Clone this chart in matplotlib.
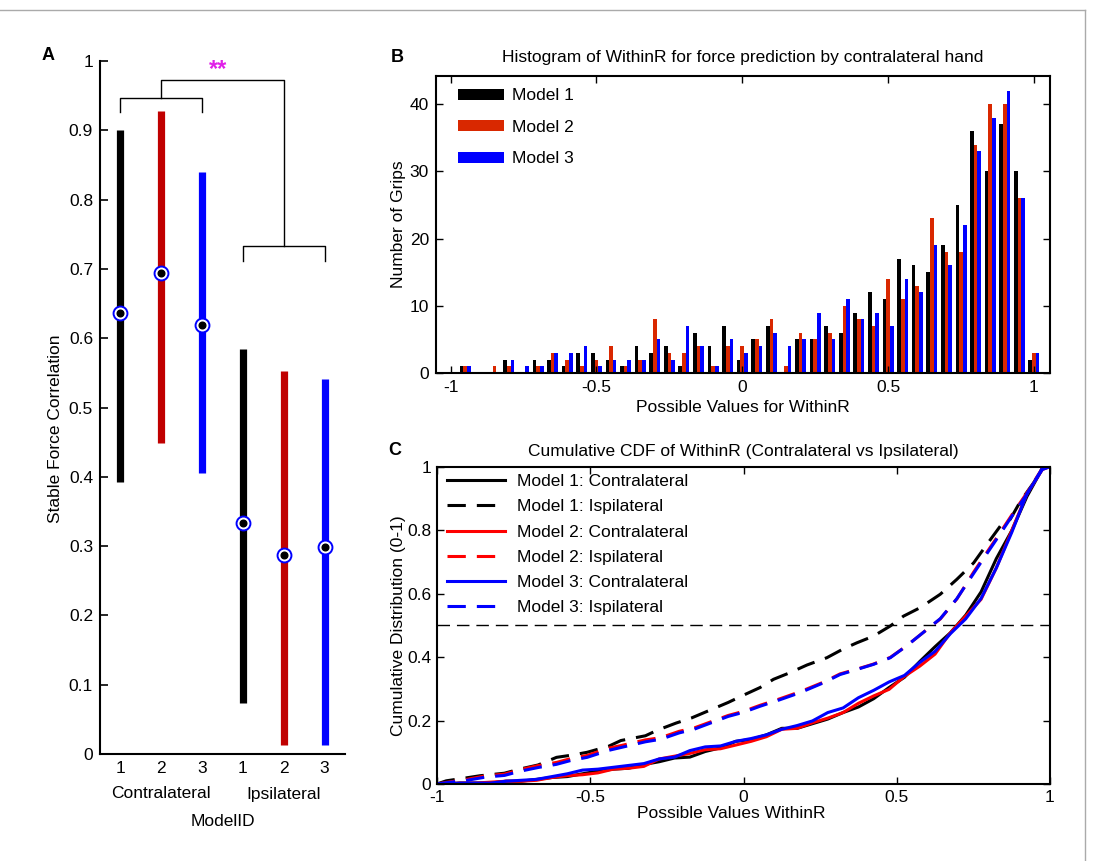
import numpy as np
import matplotlib
matplotlib.use('Agg')
import matplotlib.pyplot as plt
from matplotlib.lines import Line2D
from matplotlib.ticker import FuncFormatter

FS = 12.5
plt.rcParams['font.family'] = ['Liberation Sans', 'DejaVu Sans']
plt.rcParams['font.size'] = FS

# ---------------- Panel A data ----------------
a_positions = [1, 2, 3, 4, 5, 6]
a_tick_labels = ['1', '2', '3', '1', '2', '3']
a_groups = ['Contralateral', 'Ipsilateral']
a_group_pos = [2, 5]
a_low = [0.392, 0.449, 0.405, 0.073, 0.013, 0.013]
a_high = [0.901, 0.928, 0.840, 0.585, 0.552, 0.541]
a_mean = [0.637, 0.694, 0.619, 0.334, 0.287, 0.298]

# ---------------- Panel B data ----------------
bin_centers = [-1.00, -0.95, -0.90, -0.85, -0.80, -0.75, -0.70, -0.65, -0.60, -0.55,
               -0.50, -0.45, -0.40, -0.35, -0.30, -0.25, -0.20, -0.15, -0.10, -0.05,
               0.00, 0.05, 0.10, 0.15, 0.20, 0.25, 0.30, 0.35, 0.40, 0.45,
               0.50, 0.55, 0.60, 0.65, 0.70, 0.75, 0.80, 0.85, 0.90, 0.95, 1.00]
model1_counts = [0, 1, 0, 0, 2, 0, 2, 2, 1, 3,
                 3, 2, 1, 4, 3, 4, 1, 6, 4, 7,
                 2, 5, 7, 0, 5, 5, 7, 6, 9, 12,
                 11, 17, 16, 15, 19, 25, 36, 30, 37, 30, 2]
model2_counts = [0, 1, 0, 1, 1, 0, 1, 3, 2, 1,
                 2, 4, 1, 2, 8, 3, 3, 4, 1, 4,
                 4, 5, 8, 1, 6, 5, 6, 10, 8, 7,
                 14, 11, 13, 23, 18, 18, 34, 40, 40, 26, 3]
model3_counts = [0, 1, 0, 0, 2, 1, 1, 3, 3, 4,
                 1, 2, 2, 2, 5, 2, 7, 4, 1, 5,
                 3, 4, 6, 4, 5, 9, 5, 11, 8, 9,
                 7, 14, 12, 19, 16, 22, 33, 38, 42, 26, 3]
model_labels = ['Model 1', 'Model 2', 'Model 3']

# ---------------- Panel C data (ipsilateral CDFs) ----------------
ipsi1_x = [-1.0, -0.97, -0.9, -0.86, -0.78, -0.73, -0.67, -0.61, -0.56, -0.51, -0.44,
           -0.40, -0.32, -0.28, -0.22, -0.17, -0.05, 0.0, 0.054, 0.098, 0.152, 0.207,
           0.272, 0.326, 0.37, 0.424, 0.479, 0.522, 0.577, 0.642, 0.696, 0.751, 0.794,
           0.838, 0.87, 0.903, 0.947, 0.975, 1.0]
ipsi1_y = [0.0, 0.01, 0.02, 0.026, 0.034, 0.047, 0.06, 0.084, 0.091, 0.10, 0.119,
           0.137, 0.152, 0.17, 0.192, 0.208, 0.257, 0.28, 0.304, 0.33, 0.351, 0.375,
           0.398, 0.426, 0.445, 0.466, 0.498, 0.529, 0.556, 0.598, 0.645, 0.697, 0.755,
           0.813, 0.834, 0.89, 0.95, 0.995, 1.0]
ipsi2_x = [-1.0, -0.97, -0.9, -0.84, -0.78, -0.73, -0.67, -0.61, -0.56, -0.51, -0.44,
           -0.40, -0.32, -0.27, -0.21, -0.16, -0.05, 0.0, 0.054, 0.12, 0.185, 0.261,
           0.315, 0.37, 0.424, 0.479, 0.533, 0.587, 0.642, 0.696, 0.751, 0.794, 0.838,
           0.881, 0.925, 0.975, 1.0]
ipsi2_y = [0.0, 0.005, 0.015, 0.026, 0.031, 0.045, 0.058, 0.068, 0.081, 0.090, 0.113,
           0.121, 0.139, 0.146, 0.166, 0.177, 0.216, 0.229, 0.248, 0.269, 0.291, 0.321,
           0.347, 0.362, 0.378, 0.399, 0.436, 0.478, 0.520, 0.583, 0.668, 0.730, 0.793,
           0.856, 0.918, 0.995, 1.0]
ipsi3_x = [-1.0, -0.97, -0.9, -0.84, -0.78, -0.73, -0.67, -0.61, -0.56, -0.51, -0.44,
           -0.40, -0.32, -0.27, -0.21, -0.16, -0.05, 0.0, 0.054, 0.12, 0.185, 0.261,
           0.315, 0.37, 0.424, 0.479, 0.533, 0.587, 0.642, 0.696, 0.751, 0.794, 0.838,
           0.881, 0.925, 0.975, 1.0]
ipsi3_y = [0.0, 0.004, 0.012, 0.022, 0.027, 0.040, 0.052, 0.062, 0.075, 0.084, 0.106,
           0.115, 0.133, 0.141, 0.161, 0.173, 0.213, 0.226, 0.245, 0.266, 0.288, 0.319,
           0.345, 0.361, 0.377, 0.398, 0.436, 0.478, 0.521, 0.584, 0.664, 0.726, 0.789,
           0.852, 0.914, 0.995, 1.0]

W, H = 1094, 861
fig = plt.figure(figsize=(W / 100, H / 100), dpi=100)


def g(v, pos=None):
    return '%g' % v


# ---------------- Panel A ----------------
axA = fig.add_axes([100 / W, 1 - 754 / H, 245 / W, 693 / H])
colorsA = ['#000000', '#C00000', '#0000FF', '#000000', '#C00000', '#0000FF']
for x, lo, hi, c in zip(a_positions, a_low, a_high, colorsA):
    axA.plot([x, x], [lo, hi], color=c, lw=5.2, solid_capstyle='butt', zorder=2)
axA.plot(a_positions, a_mean, 'o', ms=10, mfc='white', mec='#0000FF', mew=1.4,
         ls='none', zorder=3)
axA.plot(a_positions, a_mean, 'o', ms=4.8, color='k', ls='none', zorder=4)
# significance brackets
br_low, br_high = 0.926, 0.947
br2_low, br2_high = 0.712, 0.733
br_top = 0.973
axA.plot([1, 1, 3, 3], [br_low, br_high, br_high, br_low], color='k', lw=1)
axA.plot([4, 4, 6, 6], [br2_low, br2_high, br2_high, br2_low], color='k', lw=1)
axA.plot([2, 2, 5, 5], [br_high, br_top, br_top, br2_high], color='k', lw=1)
axA.text(3.38, 0.988, '**', color='#E020E8', fontsize=17, fontweight='bold',
         ha='center', va='center')
axA.set_xlim(0.5, 6.5)
axA.set_ylim(0, 1)
axA.set_yticks(np.arange(0, 1.01, 0.1))
axA.yaxis.set_major_formatter(FuncFormatter(g))
axA.set_xticks(a_positions)
axA.set_xticklabels(a_tick_labels)
axA.tick_params(axis='y', direction='in', length=6, width=1.2, pad=5)
axA.tick_params(axis='x', length=0, pad=5)
for s in ['top', 'right']:
    axA.spines[s].set_visible(False)
for s in ['left', 'bottom']:
    axA.spines[s].set_linewidth(1.5)
for lab, pos in zip(a_groups, a_group_pos):
    axA.text(pos, -40 / 693, lab, transform=axA.get_xaxis_transform(),
             ha='center', va='center')
axA.text(3.5, -67 / 693, 'ModelID', transform=axA.get_xaxis_transform(),
         ha='center', va='center')
axA.set_ylabel('Stable Force Correlation')
axA.yaxis.set_label_coords(-0.151, 0.470)
fig.text(48 / W, 1 - 55 / H, 'A', fontsize=13, fontweight='bold',
         ha='center', va='center')

# ---------------- Panel B ----------------
axB = fig.add_axes([436 / W, 1 - 373 / H, 614 / W, 297 / H])
colorsB = ['#000000', '#D92800', '#0000FF']
offsets = [-0.0125, 0.0, 0.0125]
centers = np.array(bin_centers)
for cnt, off, c, lab in zip([model1_counts, model2_counts, model3_counts], offsets,
                            colorsB, model_labels):
    axB.bar(centers + off, cnt, width=0.0125, color=c, linewidth=0, label=lab)
axB.set_xlim(-1.05, 1.055)
axB.set_ylim(0, 44.2)
axB.set_xticks([-1, -0.5, 0, 0.5, 1])
axB.set_yticks([0, 10, 20, 30, 40])
axB.xaxis.set_major_formatter(FuncFormatter(g))
axB.tick_params(direction='in', top=True, right=True, length=5, width=1, pad=5)
for s in axB.spines.values():
    s.set_linewidth(1.5)
axB.text(0.5, 1.062, 'Histogram of WithinR for force prediction by contralateral hand',
         transform=axB.transAxes, ha='center', va='center')
axB.set_xlabel('Possible Values for WithinR')
axB.xaxis.set_label_coords(0.5, -0.091)
axB.set_ylabel('Number of Grips')
axB.yaxis.set_label_coords(-0.049, 0.5)
axB.legend(loc='upper left', frameon=False, handlelength=2.65, handleheight=0.6,
           labelspacing=0.95, borderaxespad=0.3, handletextpad=0.45,
           bbox_to_anchor=(10 / 614, 1.0))
fig.text(397 / W, 1 - 57 / H, 'B', fontsize=13, fontweight='bold',
         ha='center', va='center')

# ---------------- Panel C ----------------
axC = fig.add_axes([437 / W, 1 - 784 / H, 613 / W, 317.3 / H])
axC.axhline(0.5, color='k', lw=1, ls=(0, (9, 5)), zorder=1)
dash = (0, (6, 3.6))
colorsC = ['#000000', '#FF0000', '#0000FF']
ipsi = [(ipsi1_x, ipsi1_y), (ipsi2_x, ipsi2_y), (ipsi3_x, ipsi3_y)]
for i, (cnt, c) in enumerate(zip([model1_counts, model2_counts, model3_counts], colorsC)):
    cnt = np.array(cnt, dtype=float)
    cdf = np.cumsum(cnt) / cnt.sum()
    xe = np.minimum(centers + 0.025, 1.0)
    xs = np.concatenate([[-1.0], xe])
    ys = np.concatenate([[0.0], cdf])
    axC.plot(xs, ys, color=c, lw=2.2, label='Model %d: Contralateral' % (i + 1), zorder=2)
    axC.plot(ipsi[i][0], ipsi[i][1], color=c, lw=2.2, ls=dash,
             label='Model %d: Ispilateral' % (i + 1), zorder=2)
axC.set_xlim(-1, 1)
axC.set_ylim(0, 1)
axC.set_xticks([-1, -0.5, 0, 0.5, 1])
axC.set_yticks([0, 0.2, 0.4, 0.6, 0.8, 1])
axC.xaxis.set_major_formatter(FuncFormatter(g))
axC.yaxis.set_major_formatter(FuncFormatter(g))
axC.tick_params(direction='in', top=True, right=True, length=5, width=1, pad=4)
for s in axC.spines.values():
    s.set_linewidth(1.5)
axC.text(0.5, 1.049, 'Cumulative CDF of WithinR (Contralateral vs Ipsilateral)',
         transform=axC.transAxes, ha='center', va='center')
axC.set_xlabel('Possible Values WithinR')
axC.xaxis.set_label_coords(0.48, -0.069)
axC.set_ylabel('Cumulative Distribution (0-1)')
axC.yaxis.set_label_coords(-0.0506, 0.5)
axC.legend(loc='upper left', frameon=False, handlelength=3.33, labelspacing=0.58,
           borderaxespad=0.2, handletextpad=0.69,
           bbox_to_anchor=(0.0, 1 + 3 / 317.3))
fig.text(395 / W, 1 - 450 / H, 'C', fontsize=13, fontweight='bold',
         ha='center', va='center')

# light frame lines
fig.add_artist(Line2D([0, 1085 / W], [1 - 10 / H, 1 - 10 / H], transform=fig.transFigure,
                      color='#AAAAAA', lw=1))
fig.add_artist(Line2D([1085 / W, 1085 / W], [0, 1 - 10 / H], transform=fig.transFigure,
                      color='#AAAAAA', lw=1))

fig.savefig('out.png', dpi=100)
